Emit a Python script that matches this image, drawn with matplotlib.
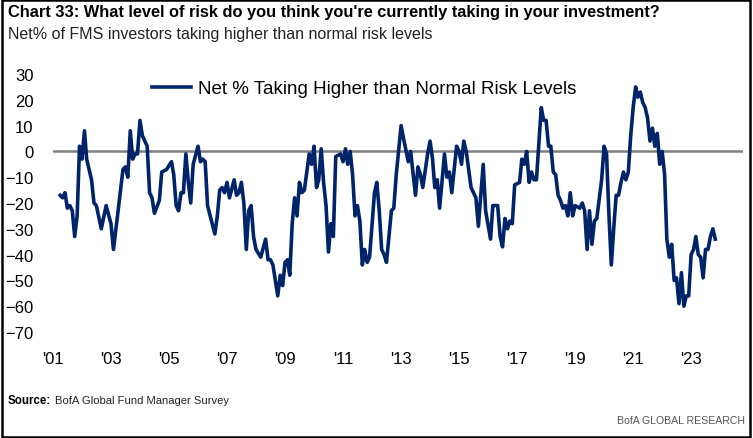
import matplotlib
matplotlib.use("Agg")
import matplotlib.pyplot as plt
import matplotlib.dates as mdates
import pandas as pd
from matplotlib.patches import Rectangle

# Net % of FMS investors taking higher than normal risk
dates = [
    "2001-04", "2001-05", "2001-06", "2001-07", "2001-08", "2001-09", "2001-10", "2001-11", "2001-12",
    "2002-01", "2002-02", "2002-03", "2002-05", "2002-06", "2002-07", "2002-09", "2002-11",
    "2003-01", "2003-02", "2003-04", "2003-06", "2003-07", "2003-08", "2003-09", "2003-10", "2003-11", "2003-12",
    "2004-01", "2004-02", "2004-04", "2004-05", "2004-06", "2004-07", "2004-09", "2004-10", "2004-12",
    "2005-02", "2005-03", "2005-04", "2005-05", "2005-06", "2005-07", "2005-08", "2005-09", "2005-10", "2005-11",
    "2006-01", "2006-02", "2006-03", "2006-04", "2006-05", "2006-08", "2006-09", "2006-10", "2006-11", "2006-12",
    "2007-01", "2007-02", "2007-04", "2007-05", "2007-06", "2007-07", "2007-08", "2007-09", "2007-10", "2007-11", "2007-12",
    "2008-01", "2008-03", "2008-05", "2008-06", "2008-07", "2008-08", "2008-10", "2008-11", "2008-12",
    "2009-01", "2009-02", "2009-03", "2009-04", "2009-05", "2009-06", "2009-07", "2009-08", "2009-09", "2009-10", "2009-11", "2009-12",
    "2010-01", "2010-02", "2010-03", "2010-04", "2010-05", "2010-06", "2010-07", "2010-08", "2010-09", "2010-10", "2010-12",
    "2011-01", "2011-02", "2011-03", "2011-04", "2011-05", "2011-06", "2011-07", "2011-08", "2011-09", "2011-10", "2011-11", "2011-12",
    "2012-02", "2012-03", "2012-04", "2012-05", "2012-06", "2012-07", "2012-09", "2012-10", "2012-11",
    "2013-01", "2013-02", "2013-04", "2013-05", "2013-07", "2013-08", "2013-09", "2013-10", "2013-12",
    "2014-01", "2014-02", "2014-03", "2014-04", "2014-05", "2014-07", "2014-08", "2014-09", "2014-10", "2014-12",
    "2015-01", "2015-02", "2015-03", "2015-04", "2015-06", "2015-07", "2015-08", "2015-09", "2015-11", "2015-12",
    "2016-02", "2016-03", "2016-05", "2016-06", "2016-07", "2016-08", "2016-09", "2016-10", "2016-11", "2016-12",
    "2017-02", "2017-03", "2017-04", "2017-05", "2017-06", "2017-07", "2017-08", "2017-09", "2017-11", "2017-12",
    "2018-01", "2018-02", "2018-03", "2018-04", "2018-05", "2018-06", "2018-07", "2018-08", "2018-09", "2018-10", "2018-11", "2018-12",
    "2019-01", "2019-03", "2019-04", "2019-05", "2019-06", "2019-07", "2019-08", "2019-09", "2019-10", "2019-12",
    "2020-01", "2020-02", "2020-03", "2020-04", "2020-05", "2020-06", "2020-07", "2020-08", "2020-09", "2020-10", "2020-11", "2020-12",
    "2021-01", "2021-02", "2021-03", "2021-04", "2021-05", "2021-06", "2021-07", "2021-08", "2021-09", "2021-10", "2021-11", "2021-12",
    "2022-01", "2022-02", "2022-03", "2022-04", "2022-05", "2022-06", "2022-07", "2022-08", "2022-09", "2022-10", "2022-11", "2022-12",
    "2023-01", "2023-02", "2023-03", "2023-04", "2023-05", "2023-06", "2023-07", "2023-08", "2023-09", "2023-10", "2023-11",
]
values = [
    -17, -18, -16, -22, -21, -23, -33, -25, 2,
    -3, 8, -3, -11, -20, -21, -30, -21,
    -28, -38, -23, -7, -6, -10, 8, -3, -1, -1,
    12, 6, 2, -16, -18, -24, -19, -8, -7,
    -4, -9, -21, -23, -16, -16, -1, -12, -20, -5,
    2, -4, -3, -4, -21, -32, -25, -15, -14, -16,
    -12, -18, -11, -17, -16, -12, -20, -38, -23, -21, -33,
    -38, -41, -34, -42, -42, -44, -56, -48, -52,
    -43, -42, -48, -28, -18, -25, -12, -16, -15, -8, -1, -5,
    2, -14, -11, 1, -12, -21, -39, -28, -33, -2, -1,
    -4, 1, -5, 0, -9, -25, -21, -27, -44, -38, -43, -41,
    -16, -12, -23, -38, -40, -43, -23, -22, -9,
    10, 5, -4, 0, -17, -6, -9, -14, -1,
    4, -3, -14, -11, -22, -1, -10, -8, -16, 2,
    0, -5, 4, 0, -14, -16, -18, -29, -5, -23,
    -34, -21, -21, -33, -37, -26, -30, -27, -28, -13,
    -12, -3, -5, 0, -12, -8, -11, -11, 17, 12,
    12, 2, 2, -8, -9, -17, -19, -22, -21, -25, -16, -25,
    -21, -22, -20, -23, -38, -23, -36, -27, -26, -11,
    2, -1, -24, -44, -30, -17, -17, -12, -8, -11, -8, 6,
    17, 25, 21, 23, 19, 17, 13, 4, 9, 2, 7, -5,
    0, -9, -34, -41, -36, -50, -49, -59, -47, -60, -56, -56,
    -40, -38, -33, -40, -41, -49, -38, -38, -33, -30, -34,
]

navy = "#002469"
plt.rcParams["font.family"] = ["Liberation Sans", "DejaVu Sans"]

x = pd.to_datetime(dates)

fig = plt.figure(figsize=(7.53, 4.39), dpi=100)
ax = fig.add_axes([53 / 753, 1 - 333 / 439, 690 / 753, 258 / 439])

ax.axhline(0, color="#7f7f7f", lw=1.8, zorder=1)
ax.plot(x, values, color=navy, lw=2.6, label="Net % Taking Higher than Normal Risk Levels", zorder=2)

ax.set_ylim(-70, 30)
ax.set_yticks(range(-70, 31, 10))
ax.set_xlim(pd.Timestamp("2001-01-01"), pd.Timestamp("2024-10-15"))
ax.set_xticks([pd.Timestamp(f"{y}-01-01") for y in range(2001, 2024, 2)])
ax.xaxis.set_major_formatter(mdates.DateFormatter("'%y"))

for s in ax.spines.values():
    s.set_visible(False)
ax.tick_params(length=0, labelsize=12, colors="black")
ax.tick_params(axis="y", pad=14)
ax.tick_params(axis="x", pad=14)

leg = ax.legend(loc="upper left", bbox_to_anchor=(0.13, 1.012), frameon=False,
                fontsize=13.5, handlelength=2.1, handletextpad=0.35, borderaxespad=0.1)

fig.text(8 / 753, 1 - 13 / 439, "Chart 33: What level of risk do you think you're currently taking in your investment?",
         fontsize=11.8, fontweight="bold", va="center", ha="left")
fig.text(8 / 753, 1 - 34 / 439, "Net% of FMS investors taking higher than normal risk levels",
         fontsize=11.5, va="center", ha="left", color="#222222")
fig.text(8 / 753, 1 - 401 / 439, "Source:", fontsize=8.3, fontweight="bold", va="center", ha="left")
fig.text(55 / 753, 1 - 401 / 439, "BofA Global Fund Manager Survey",
         fontsize=8.1, va="center", ha="left", color="#222222")
fig.text(745 / 753, 1 - 421 / 439, "BofA GLOBAL RESEARCH",
         fontsize=7.6, va="center", ha="right", color="#555555")

fig.patches.append(Rectangle((0.002, 0.003), 0.994, 0.994, transform=fig.transFigure,
                             fill=False, edgecolor="black", lw=1.8))

fig.savefig("out.png", dpi=100)
